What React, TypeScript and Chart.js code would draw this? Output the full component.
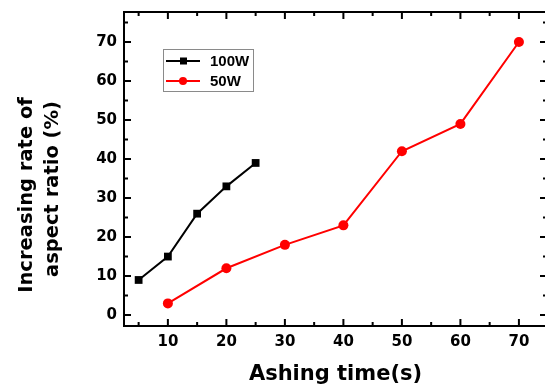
import React, { useEffect, useRef } from 'react';
import { Chart, registerables } from 'chart.js';

Chart.register(...registerables);

const seriesNames = ['100W', '50W'];
const seriesColors = ['#000000', '#ff0000'];
const time100 = [5, 10, 15, 20, 25];
const rate100 = [9, 15, 26, 33, 39];
const time50 = [10, 20, 30, 40, 50, 60, 70];
const rate50 = [3, 12, 18, 23, 42, 49, 70];
const xTicks = [10, 20, 30, 40, 50, 60, 70];
const xMinorTicks = [5, 15, 25, 35, 45, 55, 65];
const yTicks = [0, 10, 20, 30, 40, 50, 60, 70];
const yMinorTicks = [5, 15, 25, 35, 45, 55, 65, 75];
const xTitle = 'Ashing time(s)';
const yTitle = ['Increasing rate of', 'aspect ratio (%)'];

const WIDE = '"DejaVu Sans", Verdana, sans-serif';
const NARROW = '"Liberation Sans", Arial, Helvetica, sans-serif';

const framePlugin = {
  id: 'frameTicks',
  afterDraw(chart: any) {
    const { ctx, chartArea } = chart;
    const { left, right, top, bottom } = chartArea;
    const xs = chart.scales.x;
    const ys = chart.scales.y;
    ctx.save();
    ctx.strokeStyle = '#000';
    ctx.lineWidth = 2;
    ctx.strokeRect(left, top, right - left, bottom - top);
    const major = 7;
    const minor = 4;
    ctx.beginPath();
    const xt = (v: number, len: number) => {
      const p = xs.getPixelForValue(v);
      ctx.moveTo(p, bottom);
      ctx.lineTo(p, bottom - len);
      ctx.moveTo(p, top);
      ctx.lineTo(p, top + len);
    };
    const yt = (v: number, len: number) => {
      const p = ys.getPixelForValue(v);
      ctx.moveTo(left, p);
      ctx.lineTo(left + len, p);
      ctx.moveTo(right, p);
      ctx.lineTo(right - len, p);
    };
    xTicks.forEach((v) => xt(v, major));
    xMinorTicks.forEach((v) => xt(v, minor));
    yTicks.forEach((v) => yt(v, major));
    yMinorTicks.forEach((v) => yt(v, minor));
    ctx.stroke();

    // Y title (two lines, rotated)
    ctx.fillStyle = '#000';
    ctx.font = `bold 19.5px ${WIDE}`;
    ctx.textAlign = 'center';
    ctx.textBaseline = 'middle';
    ctx.save();
    ctx.translate(27, 195);
    ctx.rotate(-Math.PI / 2);
    ctx.fillText(yTitle[0], 0, 0);
    ctx.restore();
    ctx.save();
    ctx.translate(53, 189);
    ctx.rotate(-Math.PI / 2);
    ctx.fillText(yTitle[1], 0, 0);
    ctx.restore();

    // Legend
    const bx = 163, by = 49, bw = 90, bh = 42;
    ctx.lineWidth = 1;
    ctx.strokeStyle = '#8a8a8a';
    ctx.strokeRect(bx + 0.5, by + 0.5, bw, bh);
    ctx.font = `bold 15px ${NARROW}`;
    ctx.textAlign = 'left';
    chart.data.datasets.forEach((ds: any, i: number) => {
      const y = 61 + i * 20;
      ctx.strokeStyle = ds.borderColor;
      ctx.lineWidth = 2;
      ctx.beginPath();
      ctx.moveTo(166, y);
      ctx.lineTo(200, y);
      ctx.stroke();
      ctx.fillStyle = ds.borderColor;
      if (ds.pointStyle === 'rect') {
        ctx.fillRect(180, y - 3.5, 7, 7);
      } else {
        ctx.beginPath();
        ctx.arc(183, y, 4, 0, Math.PI * 2);
        ctx.fill();
      }
      ctx.fillStyle = '#000';
      ctx.fillText(ds.label, 210, y + 1);
    });
    ctx.restore();
  },
};

export default function App() {
  const ref = useRef<HTMLCanvasElement>(null);
  useEffect(() => {
    if (!ref.current) return;
    const chart = new Chart(ref.current, {
      type: 'line',
      data: {
        datasets: [
          {
            label: seriesNames[0],
            data: time100.map((x, i) => ({ x, y: rate100[i] })),
            borderColor: seriesColors[0],
            backgroundColor: seriesColors[0],
            borderWidth: 2,
            pointStyle: 'rect',
            pointRadius: 5.5,
            pointBorderWidth: 0,
            tension: 0,
          },
          {
            label: seriesNames[1],
            data: time50.map((x, i) => ({ x, y: rate50[i] })),
            borderColor: seriesColors[1],
            backgroundColor: seriesColors[1],
            borderWidth: 2,
            pointStyle: 'circle',
            pointRadius: 5,
            pointBorderWidth: 0,
            tension: 0,
          },
        ],
      },
      options: {
        responsive: false,
        animation: false,
        layout: { autoPadding: false, padding: { top: 12, right: 0, left: 0, bottom: 0 } },
        plugins: {
          legend: { display: false },
          tooltip: { enabled: false },
        },
        scales: {
          x: {
            type: 'linear',
            min: 2.5,
            max: 74.8,
            afterBuildTicks: (s: any) => {
              s.ticks = xTicks.map((v) => ({ value: v }));
            },
            afterFit: (s: any) => {
              s.height = 64;
              s.paddingLeft = 0;
              s.paddingRight = 0;
            },
            grid: { display: false, drawTicks: false },
            border: { display: false },
            ticks: {
              padding: 7,
              color: '#000',
              font: { family: WIDE, size: 15, weight: 'bold' },
              maxRotation: 0,
              callback: (v: any) => String(v),
            },
            title: {
              display: true,
              text: xTitle,
              color: '#000',
              font: { family: WIDE, size: 21, weight: 'bold' },
              padding: { top: 0, bottom: 3 },
            },
          },
          y: {
            type: 'linear',
            min: -2.8,
            max: 77.7,
            afterBuildTicks: (s: any) => {
              s.ticks = yTicks.map((v) => ({ value: v }));
            },
            afterFit: (s: any) => {
              s.width = 124;
              s.paddingTop = 0;
              s.paddingBottom = 0;
            },
            grid: { display: false, drawTicks: false },
            border: { display: false },
            ticks: {
              padding: 7,
              color: '#000',
              font: { family: WIDE, size: 15, weight: 'bold' },
              callback: (v: any) => String(v),
            },
          },
        },
      },
      plugins: [framePlugin],
    });
    return () => chart.destroy();
  }, []);
  return (
    <div style={{ position: 'absolute', left: 0, top: 0, width: 545, height: 390, overflow: 'hidden', background: '#fff' }}>
      <canvas ref={ref} width={547} height={390} style={{ display: 'block' }} />
    </div>
  );
}
